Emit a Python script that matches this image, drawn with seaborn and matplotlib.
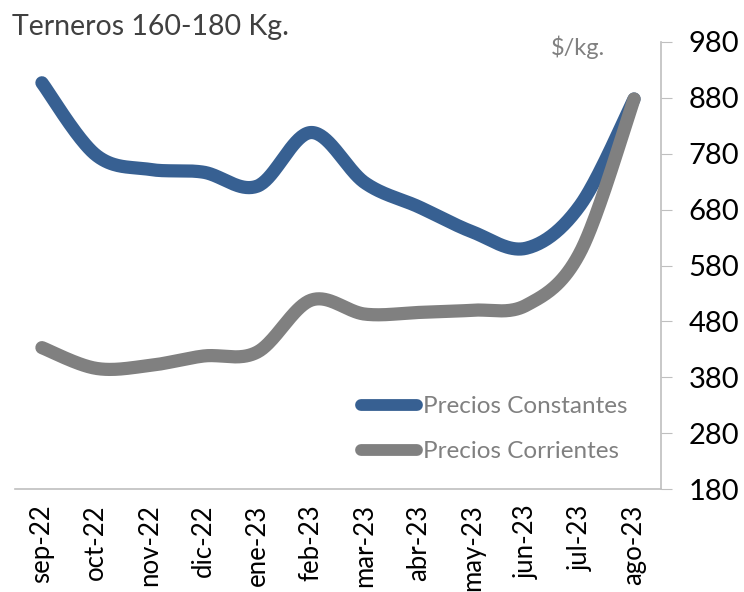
# Terneros 160-180 Kg. - precios constantes vs corrientes
import numpy as np
import pandas as pd
import matplotlib
matplotlib.use("Agg")
import matplotlib.pyplot as plt
import seaborn as sns

# ==========================================
# DATA
# ==========================================

months = ["sep-22", "oct-22", "nov-22", "dic-22", "ene-23", "feb-23",
          "mar-23", "abr-23", "may-23", "jun-23", "jul-23", "ago-23"]

constantes = [907, 778, 752, 747, 722, 818, 728, 685, 640, 611, 688, 878]
corrientes = [433, 396, 401, 418, 425, 518, 493, 496, 500, 509, 604, 878]

series_names = ["Precios Constantes", "Precios Corrientes"]
series_colors = ["#376092", "#808080"]

y_ticks = [180, 280, 380, 480, 580, 680, 780, 880, 980]


# Excel-style smoothed line: cubic bezier through every data point
def smooth(values, steps=40):
    x = np.arange(len(values), dtype=float)
    y = np.asarray(values, dtype=float)
    px = np.concatenate([[x[0]], x, [x[-1]]])
    py = np.concatenate([[y[0]], y, [y[-1]]])
    xs, ys = [], []
    t = np.linspace(0, 1, steps)
    for i in range(1, len(x)):
        p0, p1, p2, p3 = (px[i - 1], py[i - 1]), (px[i], py[i]), (px[i + 1], py[i + 1]), (px[i + 2], py[i + 2])
        c1 = (p1[0] + (p2[0] - p0[0]) / 6, p1[1] + (p2[1] - p0[1]) / 6)
        c2 = (p2[0] - (p3[0] - p1[0]) / 6, p2[1] - (p3[1] - p1[1]) / 6)
        for a, b, c, d, out in ((p1[0], c1[0], c2[0], p2[0], xs), (p1[1], c1[1], c2[1], p2[1], ys)):
            out.extend((1 - t) ** 3 * a + 3 * (1 - t) ** 2 * t * b + 3 * (1 - t) * t ** 2 * c + t ** 3 * d)
    return np.array(xs), np.array(ys)


frames = []
for name, vals in zip(series_names, [constantes, corrientes]):
    sx, sy = smooth(vals)
    frames.append(pd.DataFrame({"x": sx, "precio": sy, "serie": name}))
df = pd.concat(frames, ignore_index=True)

# ==========================================
# PLOT
# ==========================================

sns.set_style("white")
plt.rcParams["font.family"] = ["Lato", "DejaVu Sans"]

fig = plt.figure(figsize=(7.44, 5.92), dpi=100)
ax = fig.add_axes([15 / 744, 1 - 489 / 592, 646 / 744, 447 / 592])

sns.lineplot(
    data=df, x="x", y="precio", hue="serie", units="serie",
    estimator=None, sort=False, palette=series_colors,
    linewidth=9.5, ax=ax, legend=True,
)
for line in ax.get_lines():
    line.set_solid_capstyle("round")

ax.set_xlim(-0.5, len(months) - 0.5)
ax.set_ylim(180, 980)

ax.set_xticks(range(len(months)))
ax.set_xticklabels(months, rotation=90, fontsize=18.5, color="black")
ax.set_xticks(np.arange(-0.5, len(months)), minor=True)
ax.tick_params(axis="x", which="major", length=0, pad=11)
ax.tick_params(axis="x", which="minor", length=8, color="#BFBFBF", direction="out")

ax.yaxis.tick_right()
ax.set_yticks(y_ticks)
ax.set_yticklabels([str(v) for v in y_ticks], fontsize=21, color="black")
ax.tick_params(axis="y", length=8, color="#BFBFBF", direction="out", pad=12)

ax.set_xlabel("")
ax.set_ylabel("")

for side in ["left", "top"]:
    ax.spines[side].set_visible(False)
for side in ["right", "bottom"]:
    ax.spines[side].set_color("#BFBFBF")
    ax.spines[side].set_linewidth(1.2)

leg = ax.legend(
    loc="upper left", bbox_to_anchor=(0.535, 0.208), frameon=False,
    fontsize=17.5, handlelength=2.3, handletextpad=0.25, labelspacing=1.0,
    borderpad=0, borderaxespad=0,
)
for txt in leg.get_texts():
    txt.set_color("#808080")
for h in leg.legend_handles:
    h.set_linewidth(8.5)
    h.set_solid_capstyle("round")

fig.text(12 / 744, 1 - 27 / 592, "Terneros 160-180 Kg.", fontsize=20.5,
         color="#404040", va="center", ha="left")
fig.text(578 / 744, 1 - 47 / 592, "$/kg.", fontsize=17,
         color="#808080", va="center", ha="center")

fig.savefig("out.png", dpi=100)
